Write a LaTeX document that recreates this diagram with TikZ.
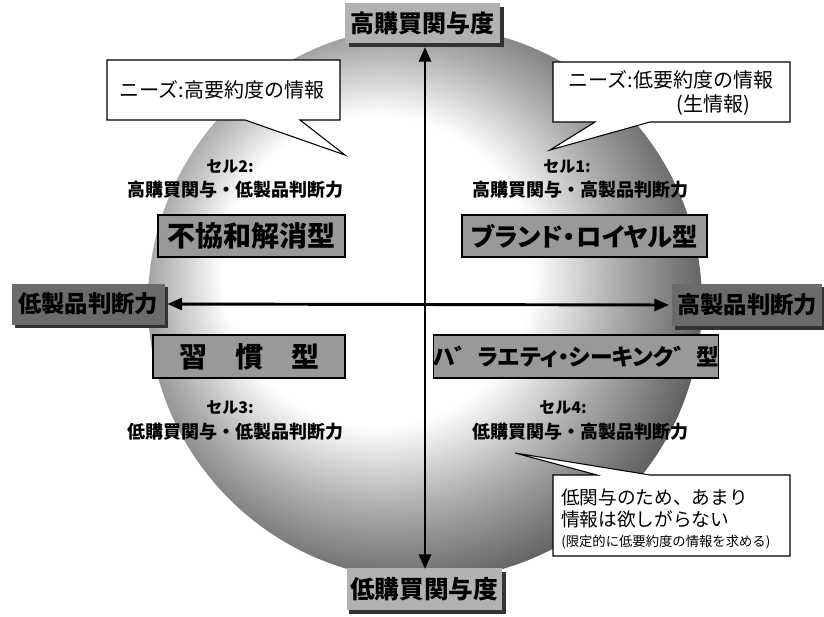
\documentclass[tikz,border=0pt]{standalone}
\usepackage{fontspec}
\setmainfont{Noto Sans CJK JP}
\newfontfamily\jpp[RawFeature=+palt]{Noto Sans CJK JP}
\usetikzlibrary{arrows.meta}
\pgfdeclareradialshading{ringshade}{\pgfpoint{-6bp}{4bp}}{color(0bp)=(white); color(14bp)=(white); color(21bp)=(black!33); color(28bp)=(black!62); color(50bp)=(black!62)}
\newcommand{\fs}[1]{\fontsize{#1}{#1}\selectfont}
\begin{document}
\begin{tikzpicture}[x=0.75pt,y=-0.75pt,
  qbox/.style={draw=black, line width=0.8pt, fill=black!40, inner sep=0pt, font=\bfseries},
  axbox/.style={inner sep=0pt, font=\bfseries},
  celltxt/.style={inner sep=0pt, font=\fs{13.5}\bfseries},
  cellno/.style={inner sep=0pt, font=\fs{12}\bfseries},
  callout/.style={draw=black, line width=0.8pt, fill=white, line join=miter},
  ctxt/.style={inner sep=0pt},
  axarrow/.style={line width=2.2pt, {Triangle[length=11pt,width=9pt]}-{Triangle[length=11pt,width=9pt]}}
]
\useasboundingbox (0,0) rectangle (824,617);
% background disc
\shade[shading=ringshade] (425,303) circle (277);

% axis label boxes
\fill[black!80] (349,7) rectangle (504,47);
\node[axbox, fill=black!30, minimum width=155*0.75pt, minimum height=40*0.75pt, font=\fs{18}\bfseries] (top) at (422,23) {高購買関与度};
\fill[black!80] (349,572) rectangle (506,614);
\node[axbox, fill=black!30, minimum width=155*0.75pt, minimum height=42*0.75pt, font=\fs{18.5}\bfseries] (bot) at (424,589) {低購買関与度};
\fill[black!80] (15,287) rectangle (168,328);
\node[axbox, fill=black!58, minimum width=153*0.75pt, minimum height=41*0.75pt, font=\fs{17.5}\bfseries] (left) at (88,304) {低製品判断力};
\fill[black!80] (675,287) rectangle (824,330);
\node[axbox, fill=black!58, minimum width=150*0.75pt, minimum height=42*0.75pt, font=\fs{17.5}\bfseries] (right) at (747,305) {高製品判断力};

% axes
\coordinate (vt) at (425,47);
\coordinate (vb) at (425,569);
\draw[axarrow] (vt) -- (vb);
\coordinate (hl) at (left.east);
\coordinate (hr) at (right.west);
\draw[axarrow] ([xshift=2pt]hl) -- ([xshift=-2pt]hr);

% quadrant type boxes
\node[qbox, minimum width=187*0.75pt, minimum height=42*0.75pt, font=\fs{21}\bfseries] (q2) at (251.5,236) {不協和解消型};
\node[qbox, minimum width=245*0.75pt, minimum height=42*0.75pt, font=\jpp\fs{19}\bfseries] (q1) at (584.5,236) {ブランド・ロイヤル型};
\node[qbox, minimum width=192*0.75pt, minimum height=43*0.75pt, font=\fs{21}\bfseries] (q3) at (249,356.5) {習　慣　型};
\node[qbox, minimum width=232*0.75pt, minimum height=43*0.75pt, font=\jpp\fs{17}\bfseries] (q4) at (576,356.5) {ハ゛ラエティ・シーキンク゛型};

% cell labels
\node[cellno] (c2n) at (230,167) {セル2:};
\node[celltxt] (c2t) at (235,190) {高購買関与・低製品判断力};
\node[cellno] (c1n) at (567,167) {セル1:};
\node[celltxt] (c1t) at (580,190) {高購買関与・高製品判断力};
\node[cellno] (c3n) at (230,408) {セル3:};
\node[celltxt] (c3t) at (235,432) {低購買関与・低製品判断力};
\node[cellno] (c4n) at (563,408) {セル4:};
\node[celltxt] (c4t) at (580,432) {低購買関与・高製品判断力};

% callout 1
\coordinate (p1) at (345,155);
\draw[callout] (107,60) -- (340,60) -- (340,120) -- (300,120) -- (p1) -- (245,120) -- (107,120) -- cycle;
\node[ctxt, font=\fs{15}] (n1) at (222,90) {ニーズ:高要約度の情報};

% callout 2
\coordinate (p2) at (550,150);
\draw[callout] (553,62) -- (790,62) -- (790,122) -- (650,122) -- (p2) -- (595,122) -- (553,122) -- cycle;
\node[ctxt, font=\fs{15}] (n2a) at (671,80) {ニーズ:低要約度の情報};
\node[ctxt, font=\fs{15}] (n2b) at (713,105) {(生情報)};

% callout 3
\coordinate (p3) at (515,453);
\draw[callout] (553,475) -- (597,475) -- (p3) -- (650,475) -- (790,475) -- (790,556) -- (553,556) -- cycle;
\node[ctxt, anchor=west, font=\fs{14}] (n3a) at (561,497) {低関与のため、あまり};
\node[ctxt, anchor=west, font=\fs{14}] (n3b) at (561,519) {情報は欲しがらない};
\node[ctxt, anchor=west, font=\fs{10}] (n3c) at (561,542) {(限定的に低要約度の情報を求める)};
\end{tikzpicture}
\end{document}
